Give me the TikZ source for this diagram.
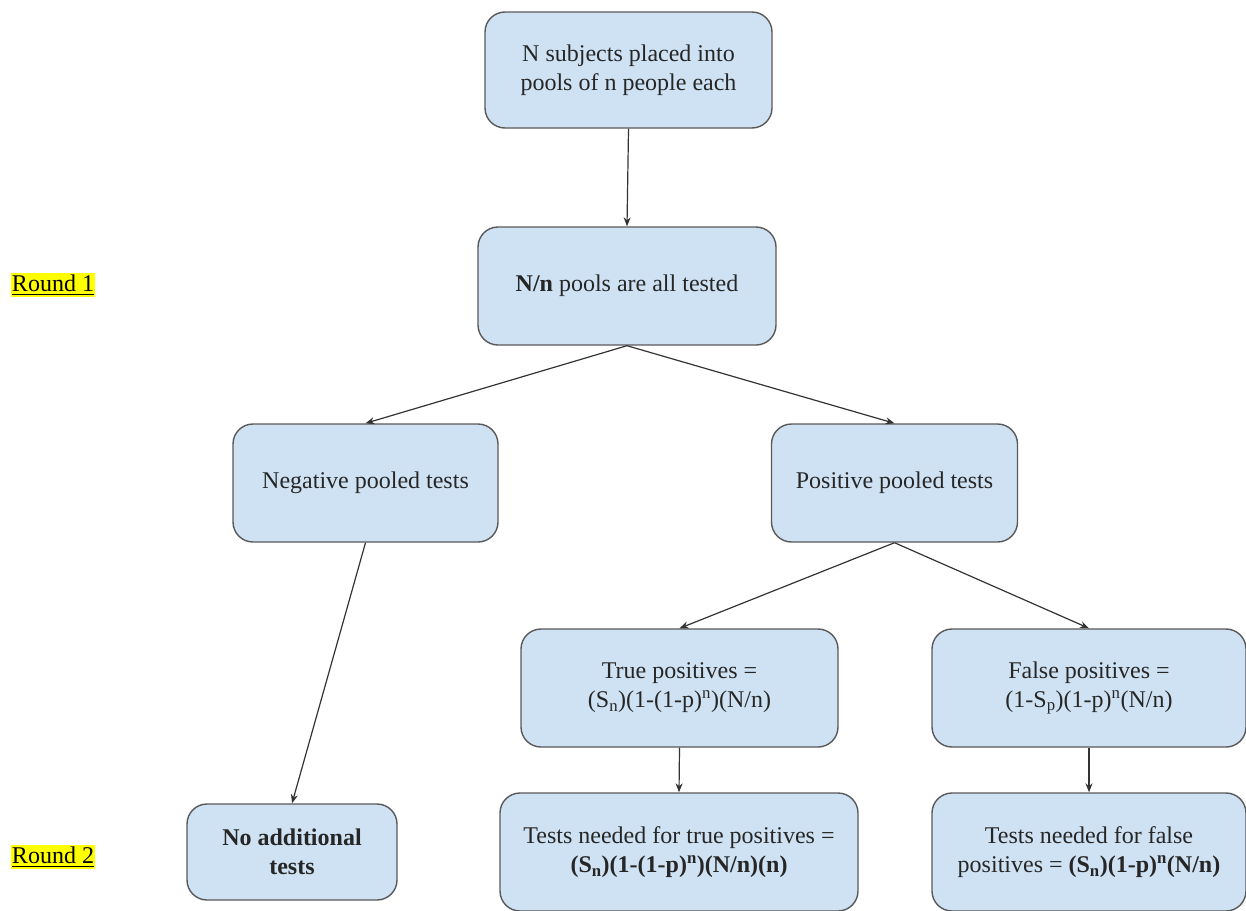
\documentclass[tikz,border=0pt]{standalone}
\usepackage{fontspec}
\setmainfont{Liberation Serif}
\usetikzlibrary{arrows.meta}
\definecolor{boxfill}{HTML}{CFE2F3}
\definecolor{boxline}{HTML}{595959}
\definecolor{hl}{HTML}{FFFF00}
\newcommand{\thickul}[1]{\setbox0=\hbox{#1}\rlap{\rule[-4pt]{\wd0}{1.8pt}}\box0}
\begin{document}
\begin{tikzpicture}[x=1pt,y=-1pt,
  box/.style={draw=boxline, fill=boxfill, line width=1.4pt, rounded corners=20pt,
    align=center, font=\fontsize{24}{29}\selectfont, inner sep=0pt, text=black!85},
  conn/.style={draw=black!80, line width=1.2pt, -{Stealth[length=9pt,width=7pt]}},
  roundlbl/.style={fill=hl, inner xsep=1pt, inner ysep=2pt, font=\fontsize{24}{28}\selectfont}]
\useasboundingbox (0,0) rectangle (1246,910);

\node[box, minimum width=287pt, minimum height=116pt] (top) at (628.5,70)
  {N subjects placed into\\pools of n people each};
\node[box, minimum width=298pt, minimum height=118pt] (pools) at (627,286)
  {\textbf{N/n} pools are all tested};
\node[box, minimum width=265pt, minimum height=118pt] (neg) at (365.5,483)
  {Negative pooled tests};
\node[box, minimum width=246pt, minimum height=118pt] (pos) at (894.5,483)
  {Positive pooled tests};
\node[box, minimum width=317pt, minimum height=118pt] (tp) at (679.5,688)
  {True positives =\\(S\textsubscript{n})(1-(1-p)\textsuperscript{n})(N/n)};
\node[box, minimum width=314pt, minimum height=118pt] (fp) at (1089,688)
  {False positives =\\(1-S\textsubscript{p})(1-p)\textsuperscript{n}(N/n)};
\node[box, minimum width=210pt, minimum height=96pt] (noadd) at (292,852)
  {\textbf{No additional}\\\textbf{tests}};
\node[box, minimum width=358pt, minimum height=118pt] (tpt) at (679,852)
  {Tests needed for true positives =\\\textbf{(S\textsubscript{n})(1-(1-p)\textsuperscript{n})(N/n)(n)}};
\node[box, minimum width=314pt, minimum height=118pt] (fpt) at (1089,852)
  {Tests needed for false\\positives = \textbf{(S\textsubscript{n})(1-p)\textsuperscript{n}(N/n)}};

\node[roundlbl] (r1) at (53,285) {\thickul{Round 1}};
\node[roundlbl] (r2) at (53,857) {\thickul{Round 2}};

\draw[conn] (top.south) -- (pools.north);
\draw[conn] (pools.south) -- (neg.north);
\draw[conn] (pools.south) -- (pos.north);
\draw[conn] (pos.south) -- (tp.north);
\draw[conn] (pos.south) -- (fp.north);
\draw[conn] (neg.south) -- (noadd.north);
\draw[conn] (tp.south) -- (tpt.north);
\draw[conn] (fp.south) -- (fpt.north);
\end{tikzpicture}
\end{document}
